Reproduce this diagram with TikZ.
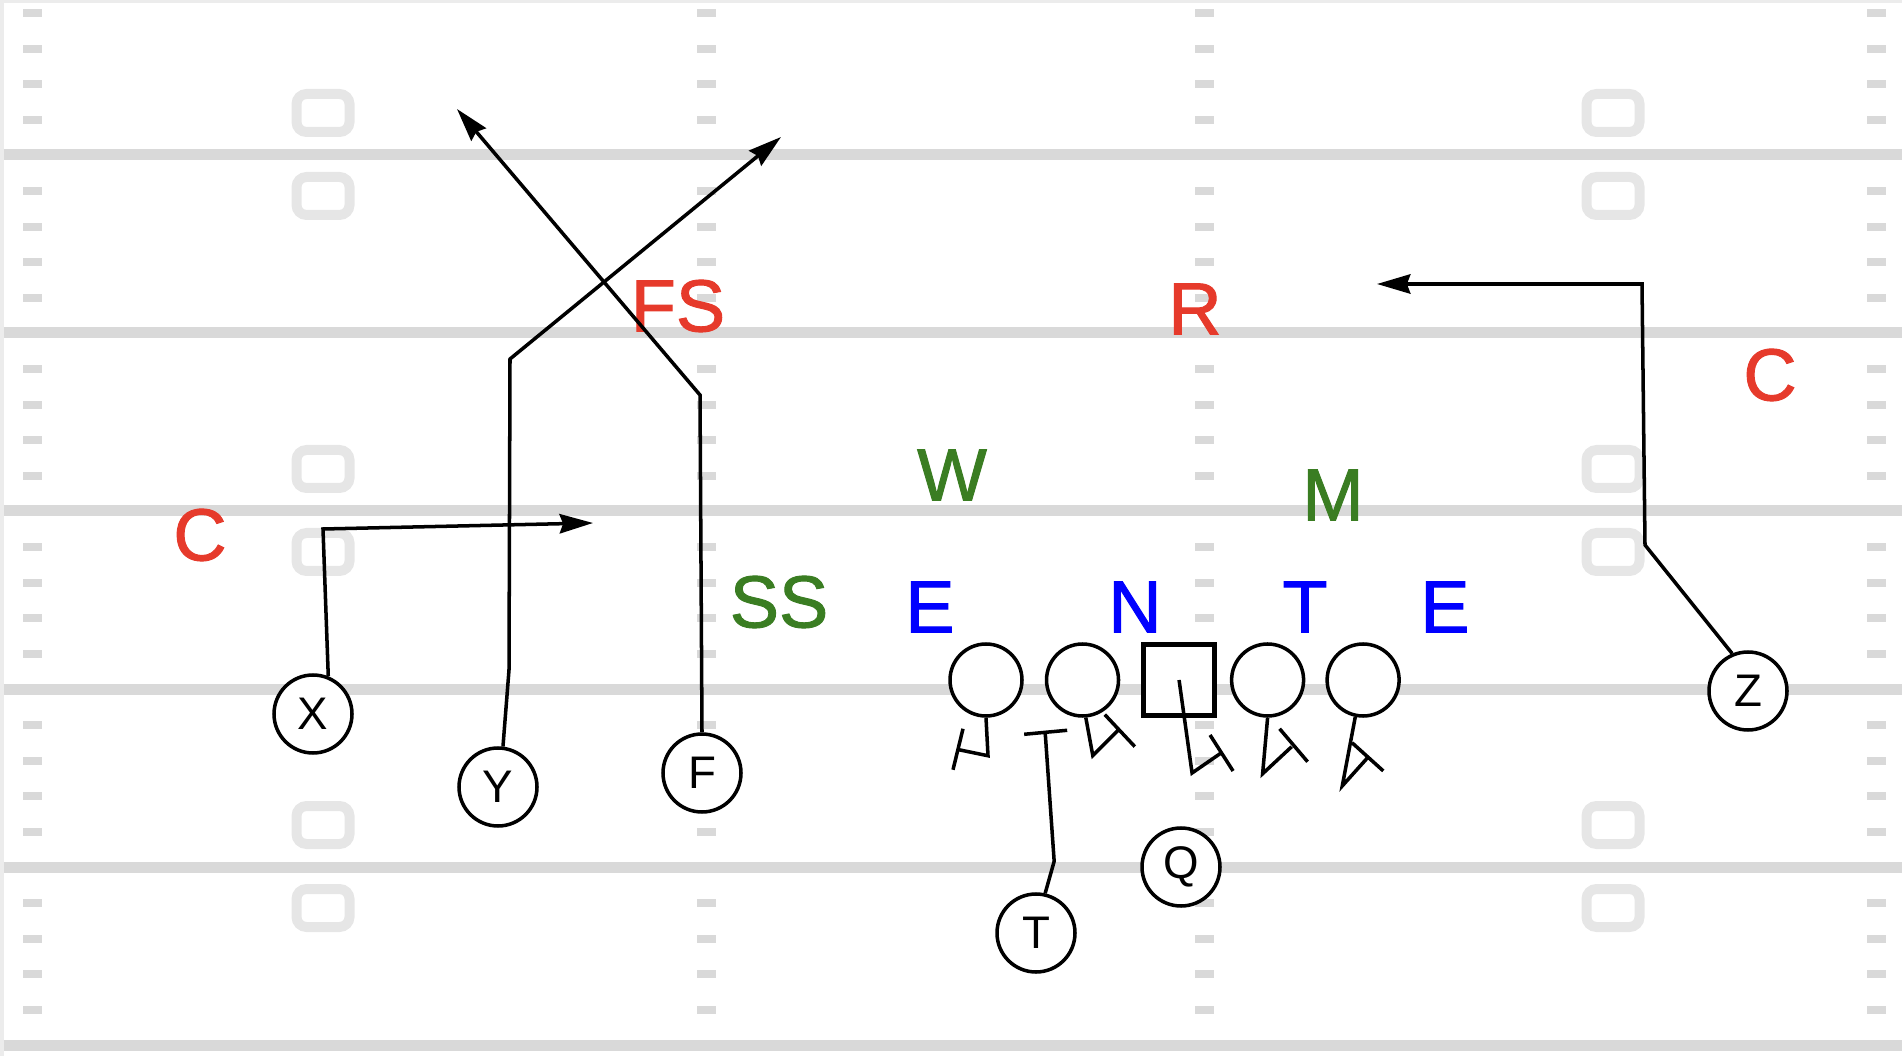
\documentclass[tikz,border=0pt]{standalone}
\usepackage{xcolor}
\usepackage{fontspec}
\usepackage{tikz}
\usetikzlibrary{positioning, calc, arrows.meta}
\setmainfont{Liberation Sans}
\newfontfamily\labelfont[FakeBold=1.3]{Liberation Sans}
\definecolor{fieldgray}{RGB}{217,217,217}
\definecolor{numbergray}{RGB}{230,230,230}
\definecolor{framegray}{RGB}{236,236,236}
\definecolor{safetyred}{RGB}{230,58,43}
\definecolor{backergreen}{RGB}{58,125,34}
\definecolor{linerblue}{RGB}{0,0,255}

\begin{document}
\begin{tikzpicture}
	\tikzstyle{yardline}=[fieldgray, line width=1.1mm]
	\tikzstyle{hashmark}=[fill=fieldgray, draw=none]
	\tikzstyle{numberbox}=[draw=numbergray, line width=1mm, rounded corners=1mm]
	\tikzstyle{player}=[draw=black, circle, line width=1pt, fill=white, minimum size=7.8mm, inner sep=0pt, font=\fontsize{13}{13}\selectfont]
	\tikzstyle{lineman}=[draw=black, circle, line width=1pt, fill=white, minimum size=7.2mm, inner sep=0pt]
	\tikzstyle{snapper}=[draw=black, rectangle, line width=1.3pt, fill=white, minimum size=7.1mm, inner sep=0pt]
	\tikzstyle{routeline}=[black, line width=1pt, -{Stealth[length=9.5pt, width=5.5pt, inset=1pt]}]
	\tikzstyle{blockline}=[black, line width=1pt]
	\tikzstyle{deflabel}=[inner sep=0pt, font=\labelfont\fontsize{21}{21}\selectfont]
	
	\useasboundingbox (0,0) rectangle (19.02,10.56);
	\fill [framegray] (0,0) rectangle (0.04,10.56);
	\fill [framegray] (0,10.53) rectangle (19.02,10.56);
	
	%% field
	\foreach \y in {9.01, 7.23, 5.45, 3.67, 1.89, 0.11}
		\draw [yardline] (0.04,\y) -- (19.02,\y);
	\foreach \x in {0.32, 7.06, 12.04, 18.76}
		\foreach \l in {0,...,5}
			\foreach \m in {0,...,3}
				\fill [hashmark] ({\x-0.095}, {10.47-0.356*(5*\l+\m)}) rectangle ++(0.19,-0.08);
	\foreach \x in {3.23, 16.13}
		\foreach \y in {9.01, 5.45, 1.89} {
			\draw [numberbox] ({\x-0.265}, {\y+0.23}) rectangle ({\x+0.265}, {\y+0.61});
			\draw [numberbox] ({\x-0.265}, {\y-0.22}) rectangle ({\x+0.265}, {\y-0.60});
		}
	
	%% defense
	\node [deflabel, text=safetyred] (FS) at (6.78,7.50) {FS};
	\node [deflabel, text=safetyred] (R) at (11.95,7.47) {R};
	\node [deflabel, text=safetyred] (Cr) at (17.70,6.81) {C};
	\node [deflabel, text=safetyred] (Cl) at (2.00,5.21) {C};
	\node [deflabel, text=backergreen] (W) at (9.52,5.81) {W};
	\node [deflabel, text=backergreen] (M) at (13.33,5.61) {M};
	\node [deflabel, text=backergreen] (SS) at (7.79,4.54) {SS};
	\node [deflabel, text=linerblue] (El) at (9.30,4.49) {E};
	\node [deflabel, text=linerblue] (N) at (11.35,4.49) {N};
	\node [deflabel, text=linerblue] (Tk) at (13.05,4.49) {T};
	\node [deflabel, text=linerblue] (Er) at (14.45,4.49) {E};
	
	%% offense
	\node [lineman] (LT) at (9.86,3.76) {};
	\node [lineman, right=0.21cm of LT] (LG) {};
	\node [snapper, right=0.21cm of LG] (OC) {};
	\node [lineman, right=0.13cm of OC] (RG) {};
	\node [lineman, right=0.20cm of RG] (RT) {};
	
	\node [player] (X) at (3.13,3.42) {X};
	\node [player] (Y) at (4.98,2.69) {Y};
	\node [player] (F) at (7.02,2.83) {F};
	\node [player] (T) at (10.36,1.23) {T};
	\node [player] (Q) at (11.81,1.89) {Q};
	\node [player] (Z) at (17.48,3.65) {Z};
	
	%% routes
	\coordinate (Xtip) at (5.93,5.33);
	\coordinate (Ytip) at (7.81,9.19);
	\coordinate (Ftip) at (4.57,9.47);
	\coordinate (Ztip) at (13.77,7.72);
	\draw [routeline] (X.68) -- (3.23,5.27) -- (Xtip);
	\draw [routeline] (Y.83) -- (5.09,3.86) -- (5.10,6.97) -- (Ytip);
	\draw [routeline] (F.north) -- (7.00,6.61) -- (Ftip);
	\draw [routeline] (Z.113) -- (16.45,5.11) -- (16.42,7.72) -- (Ztip);
	
	%% blocks
	\draw [blockline] (LT.south) -- ++(0.02,-0.38) -- ++(-0.29,0.06) ++(0.04,0.21) -- ++(-0.10,-0.41);
	\draw [blockline] (LG.-85) -- ++(0.07,-0.38) -- ++(0.25,0.25) ++(-0.13,0.16) -- ++(0.30,-0.32);
	\draw [blockline] (OC.center) -- ++(0.13,-0.93) -- ++(0.29,0.20) ++(-0.11,0.18) -- ++(0.23,-0.36);
	\draw [blockline] (RG.south) -- ++(-0.05,-0.56) -- ++(0.29,0.27) ++(-0.12,0.18) -- ++(0.28,-0.33);
	\draw [blockline] (RT.-102) -- ++(-0.13,-0.69) -- ++(0.26,0.29) ++(-0.16,0.14) -- ++(0.31,-0.28);
	\draw [blockline] (T.77) -- ++(0.09,0.32) -- ++(-0.09,1.29) ++(-0.21,-0.02) -- ++(0.43,0.04);
\end{tikzpicture}
\end{document}
